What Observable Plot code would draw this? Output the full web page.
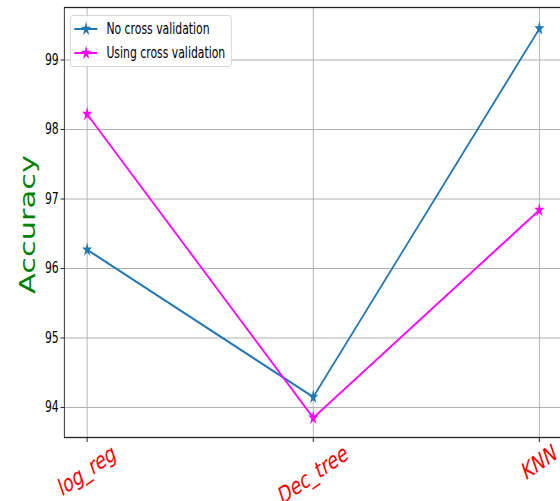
<!DOCTYPE html>
<html><head><meta charset="utf-8">
<script src="https://cdn.jsdelivr.net/npm/d3@7"></script>
<script src="https://cdn.jsdelivr.net/npm/@observablehq/plot@0.6"></script>
<style>
body{margin:0;background:#fff;}
#wrap{position:relative;width:560px;height:501px;overflow:hidden;background:#fff;}
#inner{position:absolute;left:0;top:0;width:804px;height:501px;transform:scaleX(0.7);transform-origin:0 0;}
#inner svg{max-width:none !important;}
#legend{position:absolute;box-sizing:border-box;background:rgba(255,255,255,0.85);border:1px solid #d0d0d0;border-radius:4px;font-family:"DejaVu Sans",sans-serif;}
.lrow{position:absolute;left:0;height:24px;width:100%;}
.lrow svg{position:absolute;left:5px;top:0;}
.lrow span{position:absolute;left:51px;top:2px;font-size:15.5px;line-height:20px;color:#000;white-space:nowrap;}
</style></head><body>
<div id="wrap"><div id="inner"></div></div>
<script>
// ---- data ----
const models = ["log_reg", "Dec_tree", "KNN"];
const noCV = [96.27, 94.15, 99.45];
const withCV = [98.22, 93.85, 96.84];
const seriesNames = ["No cross validation", "Using cross validation"];
const seriesColors = ["#1f77b4", "#ff00ff"];
const yTicks = [94, 95, 96, 97, 98, 99];
const yLimits = [93.568, 99.755];

// ---- layout ----
const S = 0.7;           // horizontal squeeze of the whole picture
const W = 804, H = 501;
const FONT = "'DejaVu Sans', sans-serif";

const rowsA = models.map((m, i) => ({model: m, acc: noCV[i]}));
const rowsB = models.map((m, i) => ({model: m, acc: withCV[i]}));

// label offsets from rotated bbox (matplotlib-like top alignment)
const ctx = document.createElement("canvas").getContext("2d");
const XFS = 24, ROT = 26;
ctx.font = `${XFS}px 'DejaVu Sans'`;
const rad = ROT * Math.PI / 180;
const labelDy = m => {
  const w = ctx.measureText(m).width;
  const h = XFS * 1.0;
  return 3 + (w * Math.sin(rad) + h * Math.cos(rad)) / 2;
};

const chart = Plot.plot({
  width: W, height: H,
  marginLeft: 64 / S, marginRight: W - 562 / S, marginTop: 7, marginBottom: 64,
  style: {fontFamily: FONT, background: "white", maxWidth: "none"},
  x: {type: "point", domain: models, padding: 0.1},
  y: {domain: yLimits},
  marks: [
    Plot.gridX(models, {stroke: "#b0b0b0", strokeOpacity: 1, strokeWidth: 1.3}),
    Plot.gridY(yTicks, {stroke: "#b0b0b0", strokeOpacity: 1, strokeWidth: 1.1}),
    Plot.frame({stroke: "#222", strokeWidth: 1.3}),
    Plot.axisY({ticks: yTicks, tickSize: 5, tickPadding: 3, fontSize: 15.5, label: null, tickFormat: d => String(d)}),
    Plot.axisX({tickSize: 5, tickFormat: () => "", label: null}),
    Plot.text(models, {x: d => d, frameAnchor: "bottom", text: d => d, rotate: -ROT,
      fill: "red", fontSize: XFS, textAnchor: "middle", lineAnchor: "middle"}),
    Plot.line(rowsA, {x: "model", y: "acc", stroke: seriesColors[0], strokeWidth: 2.2}),
    Plot.dot(rowsA, {x: "model", y: "acc", symbol: "star", r: 4.5, fill: seriesColors[0], stroke: null}),
    Plot.line(rowsB, {x: "model", y: "acc", stroke: seriesColors[1], strokeWidth: 2.2}),
    Plot.dot(rowsB, {x: "model", y: "acc", symbol: "star", r: 4.5, fill: seriesColors[1], stroke: null}),
    Plot.text(["Accuracy"], {frameAnchor: "left", text: d => d, dx: 28 / S - 64 / S, dy: 2, rotate: -90,
      fill: "green", fontSize: 30.5, textAnchor: "middle", lineAnchor: "middle"})
  ]
});
const inner = document.getElementById("inner");
inner.appendChild(chart);

// adjust x tick labels (first text mark) vertically by rotated bbox size
const textGroups = chart.querySelectorAll("g[aria-label='text']");
if (textGroups.length) {
  const g = textGroups[0];
  g.querySelectorAll("text").forEach((t, i) => {
    const tr = t.getAttribute("transform");
    const m = /translate\(([^,]+),([^)]+)\)/.exec(tr);
    if (m) {
      const x = +m[1], y = +m[2] + labelDy(models[i]);
      t.setAttribute("transform", tr.replace(m[0], `translate(${x},${y})`));
    }
  });
}

// ---- legend ----
const legend = document.createElement("div");
legend.id = "legend";
legend.style.left = (70 / S) + "px";
legend.style.top = "15px";
legend.style.width = ((232 - 70) / S) + "px";
legend.style.height = "52px";
inner.appendChild(legend);
const starPath = d3.symbol(d3.symbolStar, Math.PI * 4.5 * 4.5)();
seriesNames.forEach((name, i) => {
  const row = document.createElement("div");
  row.className = "lrow";
  row.style.top = (13 + 24 * i - 12) + "px";
  row.innerHTML = `<svg width="34" height="24"><line x1="0" x2="33" y1="12" y2="12" stroke="${seriesColors[i]}" stroke-width="2.2"/>` +
    `<path d="${starPath}" transform="translate(17,12)" fill="${seriesColors[i]}"/></svg><span>${name}</span>`;
  legend.appendChild(row);
});
</script>
</body></html>
